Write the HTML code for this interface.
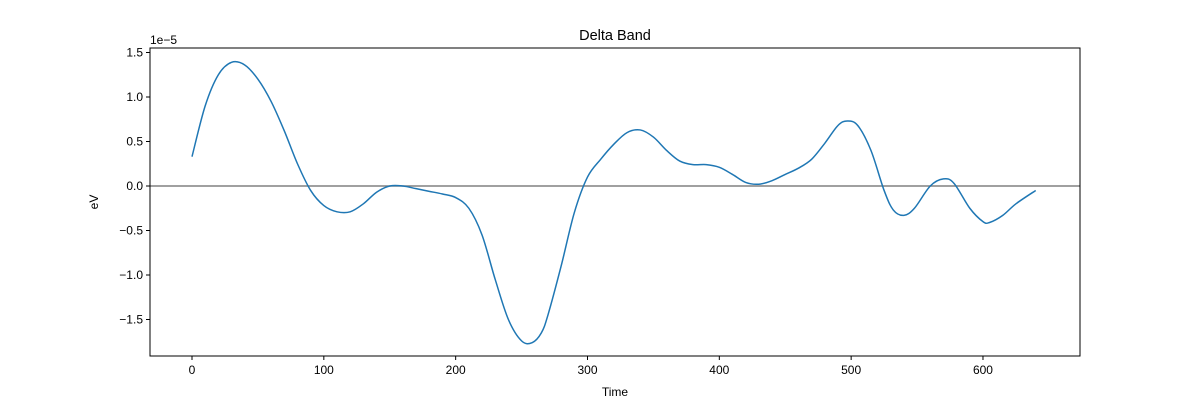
<!DOCTYPE html>
<html><head><meta charset="utf-8"><style>
body{margin:0;background:#fff}
svg text{font-family:"Liberation Sans","DejaVu Sans",sans-serif;fill:#000}
</style></head><body>
<svg id="c" width="1200" height="400"></svg>
<script>
const times=[0,10,20,30,40,50,60,70,80,90,100,110,120,130,140,150,160,170,180,190,200,210,220,230,240,250,258,265,270,280,290,300,310,320,330,340,350,360,370,380,390,400,410,420,430,440,450,460,470,480,490,497,505,515,525,532,540,548,560,570,578,590,600,605,615,625,640];
const values=[0.33,0.9,1.25,1.39,1.36,1.2,0.95,0.62,0.25,-0.05,-0.22,-0.29,-0.29,-0.2,-0.07,0,0,-0.03,-0.06,-0.09,-0.13,-0.25,-0.55,-1.05,-1.5,-1.74,-1.76,-1.65,-1.45,-0.9,-0.3,0.1,0.3,0.47,0.6,0.63,0.55,0.4,0.28,0.24,0.24,0.21,0.13,0.04,0.02,0.06,0.13,0.2,0.3,0.48,0.68,0.73,0.68,0.4,-0.05,-0.27,-0.33,-0.25,0,0.08,0.03,-0.25,-0.4,-0.41,-0.33,-0.2,-0.05];
const xTicks=[0,100,200,300,400,500,600];
const yTicks=[-1.5,-1.0,-0.5,0.0,0.5,1.0,1.5];
const L=150,R=1080,T=48,B=356;
const xs=v=>192+v*1.3183;
const ys=v=>186-v*89;
const svg=document.getElementById('c');
const NS='http://www.w3.org/2000/svg';
function mk(t,a,txt){const e=document.createElementNS(NS,t);for(const k in a)e.setAttribute(k,a[k]);if(txt!==undefined)e.textContent=txt;svg.appendChild(e);return e;}
let e;
e=mk('line',{x1:L,x2:R,y1:ys(0),y2:ys(0),stroke:'#808080','stroke-width':1.5});


// curve (catmull-rom)
const P=times.map((t,i)=>[xs(t),ys(values[i])]);
let d='M'+P[0][0]+','+P[0][1];
for(let i=0;i<P.length-1;i++){const p0=P[Math.max(0,i-1)],p1=P[i],p2=P[i+1],p3=P[Math.min(P.length-1,i+2)];
d+=` C${p1[0]+(p2[0]-p0[0])/6},${p1[1]+(p2[1]-p0[1])/6} ${p2[0]-(p3[0]-p1[0])/6},${p2[1]-(p3[1]-p1[1])/6} ${p2[0]},${p2[1]}`;}
e=mk('path',{d:d,fill:'none',stroke:'#1f77b4','stroke-width':1.5});


e=mk('rect',{x:L,y:T,width:R-L,height:B-T,fill:'none',stroke:'#000','stroke-width':1});


xTicks.forEach(v=>{mk('line',{x1:xs(v),x2:xs(v),y1:B,y2:B+4,stroke:'#000'});
e=mk('text',{x:xs(v),y:B+18,'text-anchor':'middle','font-size':12},String(v));

});
yTicks.forEach(v=>{mk('line',{x1:L-4,x2:L,y1:ys(v),y2:ys(v),stroke:'#000'});
e=mk('text',{x:L-7,y:ys(v)+4,'text-anchor':'end','font-size':12},(v<0?'\u2212':'')+Math.abs(v).toFixed(1));

});
e=mk('text',{x:150,y:44,'font-size':12},'1e\u22125');


e=mk('text',{x:615,y:396,'text-anchor':'middle','font-size':12},'Time');


e=mk('text',{x:0,y:0,'text-anchor':'middle','font-size':12,transform:'translate(98,202) rotate(-90)'},'eV');


e=mk('text',{x:615,y:40,'text-anchor':'middle','font-size':14.5},'Delta Band');


</script>
</body></html>
